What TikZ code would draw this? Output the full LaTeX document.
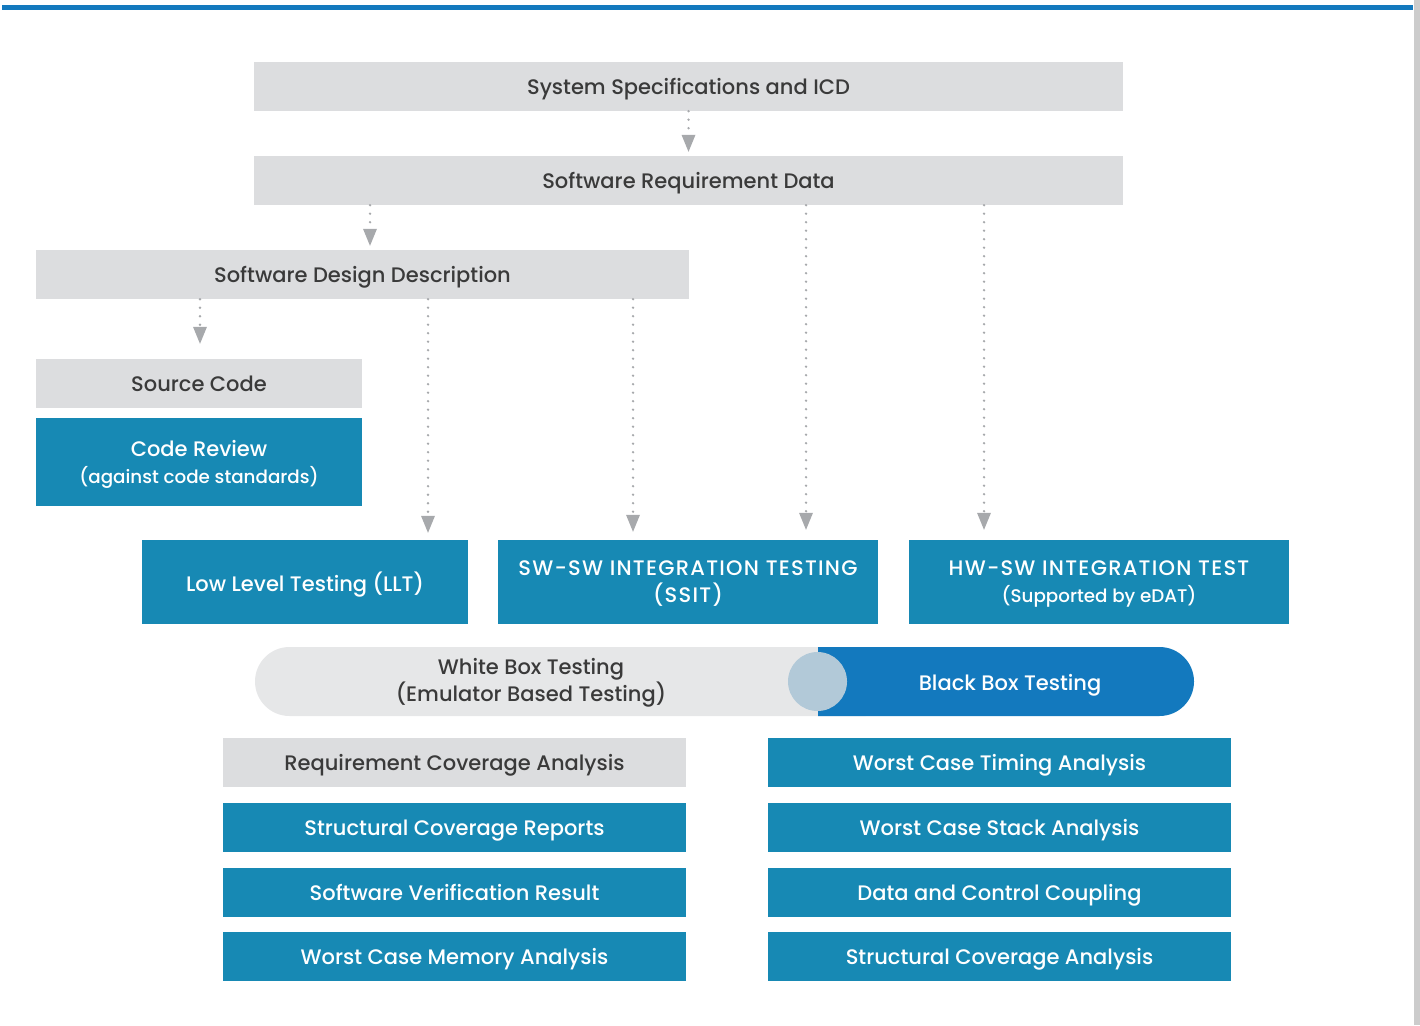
\documentclass[tikz,border=0pt]{standalone}
\usepackage{fontspec}
\setmainfont{Poppins}[UprightFont={* Medium}]
\usetikzlibrary{arrows.meta,calc}

\definecolor{barblue}{HTML}{1379BE}
\definecolor{boxblue}{HTML}{1789B4}
\definecolor{boxgray}{HTML}{DCDDDF}
\definecolor{pillgray}{HTML}{E6E7E8}
\definecolor{knobblue}{HTML}{B2C9D8}
\definecolor{flowgray}{HTML}{A7A9AC}
\definecolor{textdark}{HTML}{3A3A3A}
\definecolor{edgegray}{HTML}{CCCCCC}

\newcommand{\mainsize}{\fontsize{21}{27}\selectfont}
\newcommand{\subsize}{\fontsize{18.3}{27}\selectfont}
\newcommand{\capsline}{\addfontfeatures{LetterSpace=6}}

\tikzset{
	graybox/.style={fill=boxgray, text=textdark, inner sep=0pt, minimum height=49pt, align=center, text depth=0pt, font=\mainsize},
	bluebox/.style={fill=boxblue, text=white, inner sep=0pt, minimum height=49pt, align=center, text depth=0pt, font=\mainsize},
	flow/.style={draw=flowgray, line width=2.6pt, dash pattern=on 0pt off 8.5pt, line cap=round,
		-{Triangle[width=14pt,length=17pt,line width=0pt]}, shorten >=4pt}
}

\begin{document}
\begin{tikzpicture}[x=1pt, y=-1pt]
	%%%%% FRAME %%%%%
	\useasboundingbox (0,0) rectangle (1420,1025);
	\fill[barblue] (2,5) rectangle (1413,10);
	\fill[edgegray] (1414,0) rectangle (1420,1025);
	
	%%%%% SPECIFICATION BOXES %%%%%
	\node[graybox, minimum width=869pt] (sysspec) at (688.5,86.5) {System Specifications and ICD};
	\node[graybox, minimum width=869pt] (swreq) at (688.5,180.5) {Software Requirement Data};
	\node[graybox, minimum width=653pt] (sdd) at (362.5,274.5) {Software Design Description};
	\node[graybox, minimum width=326pt] (source) at (199,383.5) {Source Code};
	\node[bluebox, minimum width=326pt, minimum height=88pt] (review) at (199,462)
		{Code Review\\{\subsize (against code standards)}};
	
	%%%%% TESTING BOXES %%%%%
	\node[bluebox, minimum width=326pt, minimum height=84pt] (llt) at (305,582) {Low Level Testing (LLT)};
	\node[bluebox, minimum width=380pt, minimum height=84pt] (ssit) at (688,582)
		{{\capsline SW-SW INTEGRATION TESTING}\\{\capsline (SSIT)}};
	\node[bluebox, minimum width=380pt, minimum height=84pt] (hwsw) at (1099,582)
		{{\capsline HW-SW INTEGRATION TEST}\\{\subsize (Supported by eDAT)}};
	
	%%%%% CONNECTORS %%%%%
	\coordinate (xsdd) at (370,0);
	\coordinate (xsrc) at (200,0);
	\coordinate (xllt) at (428,0);
	\coordinate (xssitlow) at (633,0);
	\coordinate (xssithigh) at (806,0);
	\coordinate (xhwsw) at (984,0);
	
	\draw[flow] (sysspec) -- (swreq);
	\draw[flow] (swreq.south -| xsdd) -- (sdd.north -| xsdd);
	\draw[flow, shorten >=15pt] (sdd.south -| xsrc) -- (source.north -| xsrc);
	\draw[flow, shorten >=7pt] (sdd.south -| xllt) -- (llt.north -| xllt);
	\draw[flow, shorten >=8pt] (sdd.south -| xssitlow) -- (ssit.north -| xssitlow);
	\draw[flow, shorten >=10pt] (swreq.south -| xssithigh) -- (ssit.north -| xssithigh);
	\draw[flow, shorten >=10pt] (swreq.south -| xhwsw) -- (hwsw.north -| xhwsw);
	
	%%%%% WHITE / BLACK BOX BAR %%%%%
	\fill[pillgray, rounded corners=34.5pt] (255,647) rectangle (900,716);
	\begin{scope}
		\clip (818,640) rectangle (1200,720);
		\fill[barblue, rounded corners=34.5pt] (700,647) rectangle (1194,716);
	\end{scope}
	\fill[knobblue] (817.5,681.5) circle (29.5);
	\node[text=textdark, align=center, text depth=0pt, font=\mainsize] (whitebox) at (531,680)
		{White Box Testing\\(Emulator Based Testing)};
	\node[text=white, text depth=0pt, font=\mainsize] (blackbox) at (1010,682) {Black Box Testing};
	
	%%%%% ANALYSIS BOXES %%%%%
	\node[graybox, minimum width=463pt] (reqcov) at (454.5,762.5) {Requirement Coverage Analysis};
	\node[bluebox, minimum width=463pt] (structrep) at (454.5,827.5) {Structural Coverage Reports};
	\node[bluebox, minimum width=463pt] (verres) at (454.5,892.5) {Software Verification Result};
	\node[bluebox, minimum width=463pt] (memory) at (454.5,956.5) {Worst Case Memory Analysis};
	
	\node[bluebox, minimum width=463pt] (timing) at (999.5,762.5) {Worst Case Timing Analysis};
	\node[bluebox, minimum width=463pt] (stack) at (999.5,827.5) {Worst Case Stack Analysis};
	\node[bluebox, minimum width=463pt] (coupling) at (999.5,892.5) {Data and Control Coupling};
	\node[bluebox, minimum width=463pt] (structana) at (999.5,956.5) {Structural Coverage Analysis};
\end{tikzpicture}
\end{document}
